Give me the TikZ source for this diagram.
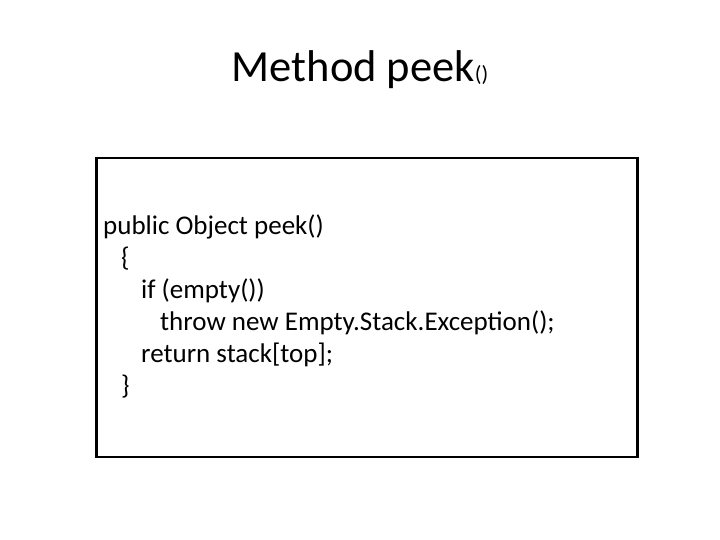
\documentclass[tikz,border=0pt]{standalone}
\usepackage{fontspec}
\setmainfont{Carlito}
\begin{document}
\begin{tikzpicture}[x=1pt,y=1pt,code/.style={anchor=base west,inner sep=0pt,font=\fontsize{27}{32}\selectfont}]
\useasboundingbox (0,0) rectangle (720,540);
\node[anchor=base,inner sep=0pt,font=\fontsize{44.5}{52}\selectfont] (title) at (360,458) {Method peek{\fontsize{22}{26}\selectfont()}};
\node[draw,line width=2.5pt,minimum width=541pt,minimum height=299pt,anchor=north west,inner sep=0pt] (box) at (95,383) {};
\node[code] (l1) at (103,305) {public Object peek()};
\node[code] (l2) at (121,273) {\{};
\node[code] (l3) at (141,241) {if (empty())};
\node[code] (l4) at (160,209) {throw new Empty.Stack.Exception();};
\node[code] (l5) at (141,177) {return stack[top];};
\node[code] (l6) at (121,145) {\}};
\end{tikzpicture}
\end{document}
